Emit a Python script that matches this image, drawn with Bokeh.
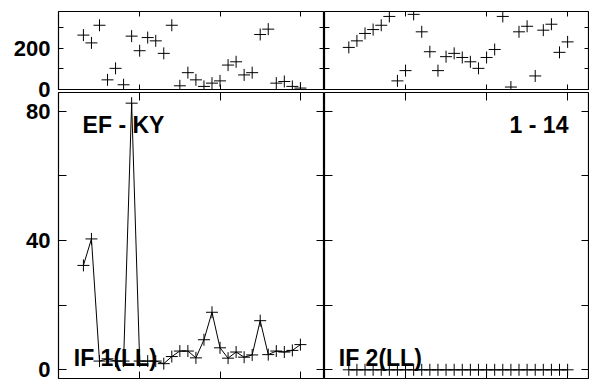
from bokeh.plotting import figure
from bokeh.layouts import column, row
from bokeh.models import Range1d, FixedTicker, LinearAxis, Label, Grid, CustomLabelingPolicy
from bokeh.embed import file_html
from bokeh.resources import INLINE

# ---- data ----
x_pos = [3, 4, 5, 6, 7, 8, 9, 10, 11, 12, 13, 14, 15, 16, 17, 18, 19, 20,
         21, 22, 23, 24, 25, 26, 27, 28, 29, 30]
top_left = [265, 227, 313, 47, 103, 23, 260, 189, 253, 237, 176, 313, 18, 82,
            47, 15, 31, 42, 119, 135, 71, 82, 268, 294, 31, 39, 15, 7]
top_right = [205, 237, 273, 292, 313, 356, 42, 92, 366, 281, 184, 92, 160, 176,
             156, 135, 103, 156, 195, 356, 12, 281, 308, 66, 289, 318, 181, 232]
bottom_left = [32.3, 40.5, 2.7, 3.4, 2.7, 2.7, 82.5, 2.7, 2.7, 2.7, 1.9, 4.1,
               5.8, 5.8, 3.7, 9.3, 17.8, 6.8, 3.6, 5.5, 3.9, 4.6, 15.2, 4.7,
               5.8, 5.5, 6.0, 7.8]
bottom_right = [0, 0, 0, 0, 0, 0, 0, 0, 0, 0, 0, 0, 0, 0, 0, 0, 0, 0, 0, 0,
                0, 0, 0, 0, 0, 0, 0, 0]
x_ticks = [10, 20, 30]
top_y_ticks = [0, 200]
top_y_minor = [100, 300]
bot_y_ticks = [0, 40, 80]
bot_y_minor = [20, 60]
label_tl = "EF - KY"
label_tr = "1 - 14"
label_bl = "IF 1(LL)"
label_br = "IF 2(LL)"

FONT = "Liberation Sans"


def make_fig(w, h, xr, yr, mbl, mbr, mbt, mbb, transparent=False):
    p = figure(width=w, height=h, x_range=xr, y_range=yr,
               output_backend="svg", toolbar_location=None,
               x_axis_location=None, y_axis_location=None,
               min_border_left=mbl, min_border_right=mbr,
               min_border_top=mbt, min_border_bottom=mbb)
    p.center = [r for r in p.center if not isinstance(r, Grid)]
    p.outline_line_color = "black"
    p.outline_line_width = 1.2
    if transparent:
        p.background_fill_color = None
        p.border_fill_color = None
    else:
        p.background_fill_color = "white"
        p.border_fill_color = "white"
    return p


def add_axis(p, side, ticks, minor, tick_in, labels=False):
    ax = LinearAxis(ticker=FixedTicker(ticks=ticks, minor_ticks=minor),
                    major_tick_in=tick_in, major_tick_out=0,
                    minor_tick_in=tick_in, minor_tick_out=0,
                    axis_line_color=None,
                    major_tick_line_color="black", minor_tick_line_color="black",
                    major_tick_line_width=1, minor_tick_line_width=1)
    if labels:
        ax.major_label_text_font = FONT
        ax.major_label_text_font_style = "bold"
        ax.major_label_text_font_size = "22px"
        ax.major_label_text_color = "black"
        ax.major_label_standoff = 8
    else:
        ax.major_label_text_font_size = "0px"
        ax.major_label_standoff = 0
        ax.major_label_policy = CustomLabelingPolicy(
            code="for (const i of Array.from(indices)) { indices.unset(i) }\nreturn indices")
    p.add_layout(ax, side)


def add_text(p, x, y, text, align):
    p.add_layout(Label(x=x, y=y, text=text, text_font=FONT, text_font_style="bold",
                       text_font_size="23px", text_color="black",
                       text_align=align, text_baseline="alphabetic"))


# ranges
xr_left = Range1d(-0.1, 33.0)
xr_right = Range1d(0.0, 32.7)
yr_top = Range1d(0, 380)
yr_bot = Range1d(-3.0, 85.8)

LW, RW = 324, 265
OVERLAP = 14
TH, BH = 11 + 78 + OVERLAP, 290

tl = make_fig(LW, TH, xr_left, yr_top, 58, 0, 11, OVERLAP)
tr = make_fig(RW, TH, xr_right, yr_top, 0, 0, 11, OVERLAP)
bl = make_fig(LW, BH, xr_left, yr_bot, 58, 0, 3, 0, transparent=True)
br = make_fig(RW, BH, xr_right, yr_bot, 0, 0, 3, 0, transparent=True)

for p, is_left in ((tl, True), (tr, False)):
    add_axis(p, "left", top_y_ticks, top_y_minor, 5, labels=is_left)
    add_axis(p, "right", top_y_ticks, top_y_minor, 5)
    add_axis(p, "above", x_ticks, [], 5)
    add_axis(p, "below", x_ticks, [], 5)

for p, is_left in ((bl, True), (br, False)):
    add_axis(p, "left", bot_y_ticks, bot_y_minor, 8, labels=is_left)
    add_axis(p, "right", bot_y_ticks, bot_y_minor, 8)
    add_axis(p, "above", x_ticks, [], 8)
    add_axis(p, "below", x_ticks, [], 8)

tl.scatter(x_pos, top_left, marker="cross", size=12, line_color="black", line_width=1)
tr.scatter(x_pos, top_right, marker="cross", size=12, line_color="black", line_width=1)

bl.line(x_pos, bottom_left, line_color="black", line_width=1)
bl.scatter(x_pos, bottom_left, marker="cross", size=12, line_color="black", line_width=1)
br.line(x_pos, bottom_right, line_color="black", line_width=1)
br.scatter(x_pos, bottom_right, marker="cross", size=12, line_color="black", line_width=1)

add_text(bl, 2.9, 75.6, label_tl, "left")
add_text(br, 30.1, 75.6, label_tr, "right")
add_text(bl, 1.8, 3.5, label_bl, "left")
add_text(br, 1.76, 3.5, label_br, "left")

layout = column(row(tl, tr), row(bl, br, margin=(-OVERLAP, 0, 0, 0)))

open("out.html", "w").write(file_html(layout, INLINE))
